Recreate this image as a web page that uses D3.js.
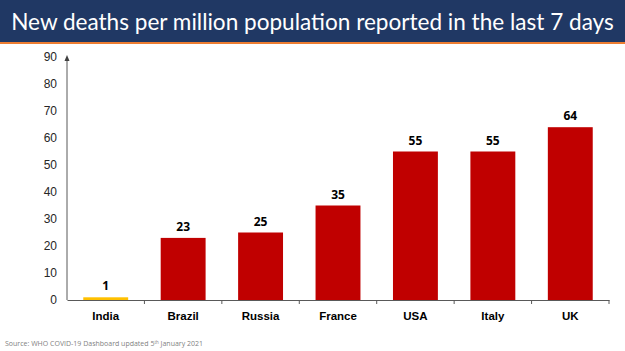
<!DOCTYPE html>
<html>
<head>
<meta charset="utf-8">
<script src="https://cdn.jsdelivr.net/npm/d3@7"></script>
<style>
  body { margin: 0; background: #fff; }
  svg { display: block; font-family: "Open Sans", "Noto Sans", sans-serif; }
</style>
</head>
<body>
<div id="chart"></div>
<script>
// data
const countries = ["India", "Brazil", "Russia", "France", "USA", "Italy", "UK"];
const deaths = [1, 23, 25, 35, 55, 55, 64];
const barColors = ["#ffc000", "#c00000", "#c00000", "#c00000", "#c00000", "#c00000", "#c00000"];
const yTicks = [0, 10, 20, 30, 40, 50, 60, 70, 80, 90];

const W = 625, H = 351;
const margin = {top: 57, right: 16, bottom: 51, left: 67};
const width = W - margin.left - margin.right;
const height = H - margin.top - margin.bottom;

const svg = d3.select("#chart").append("svg")
    .attr("width", W)
    .attr("height", H);

// header banner
svg.append("rect")
    .attr("x", 0).attr("y", 0)
    .attr("width", W).attr("height", 42)
    .attr("fill", "#203864");
svg.append("rect")
    .attr("x", 0).attr("y", 42)
    .attr("width", W).attr("height", 2)
    .attr("fill", "#ed7d31");
const title = svg.append("text")
    .attr("x", W / 2).attr("y", 30)
    .attr("text-anchor", "middle")
    .attr("fill", "#fff")
    .attr("font-family", "Lato, 'Open Sans', sans-serif")
    .attr("font-size", 24)
    .text("New deaths per million population reported in the last 7 days");
// fit the title to the banner width (~603px)
const tw = title.node().getComputedTextLength();
title.attr("font-size", 24 * 603 / tw);

const g = svg.append("g")
    .attr("transform", `translate(${margin.left},${margin.top})`);

// scales
const x = d3.scaleBand()
    .domain(countries)
    .range([0, width])
    .paddingInner(0.42)
    .paddingOuter(0.21);

const y = d3.scaleLinear()
    .domain([0, 90])
    .range([height, 0]);

// y axis
const yAxis = g.append("g")
    .call(d3.axisLeft(y).tickValues(yTicks).tickSize(0).tickPadding(10));
yAxis.select(".domain").remove();
yAxis.selectAll("text")
    .attr("font-size", 12)
    .attr("fill", "#262626");

g.append("line")
    .attr("x1", 0).attr("x2", 0)
    .attr("y1", y(0)).attr("y2", y(90) + 2)
    .attr("stroke", "#595959");
g.append("path")
    .attr("d", `M0,${y(90) - 2} L-2.5,${y(90) + 4} L2.5,${y(90) + 4} Z`)
    .attr("fill", "#404040");

// bars
g.selectAll(".bar")
    .data(countries)
    .enter().append("rect")
    .attr("class", "bar")
    .attr("x", d => x(d))
    .attr("width", x.bandwidth())
    .attr("y", (d, i) => y(deaths[i]))
    .attr("height", (d, i) => y(0) - y(deaths[i]))
    .attr("fill", (d, i) => barColors[i]);

// value labels
g.selectAll(".val")
    .data(countries)
    .enter().append("text")
    .attr("class", "val")
    .attr("x", d => x(d) + x.bandwidth() / 2)
    .attr("y", (d, i) => y(deaths[i]) - 7)
    .attr("text-anchor", "middle")
    .attr("font-size", 12)
    .attr("font-weight", "bold")
    .attr("fill", "#000")
    .text((d, i) => deaths[i]);

// x axis
const step = x.step();
const xAxis = g.append("g")
    .attr("transform", `translate(0,${height})`)
    .call(d3.axisBottom(x).tickSize(0).tickPadding(12));
xAxis.select(".domain").attr("stroke", "#595959");
xAxis.selectAll("text")
    .attr("font-size", 11.5)
    .attr("font-weight", "bold")
    .attr("fill", "#000");

// category separators on the x axis
const seps = countries.map(d => x(d) + x.bandwidth() / 2 + step / 2);
xAxis.selectAll(".sep")
    .data(seps)
    .enter().append("line")
    .attr("class", "sep")
    .attr("x1", d => d).attr("x2", d => d)
    .attr("y1", 0).attr("y2", 4)
    .attr("stroke", "#595959");

// source note
const src = svg.append("text")
    .attr("x", 5).attr("y", 346)
    .attr("font-size", 7)
    .attr("fill", "#7f7f7f");
src.append("tspan").text("Source: WHO COVID-19 Dashboard updated 5");
src.append("tspan").attr("font-size", 4.5).attr("dy", -2.5).text("th");
src.append("tspan").attr("dy", 2.5).text(" January 2021");
</script>
</body>
</html>
